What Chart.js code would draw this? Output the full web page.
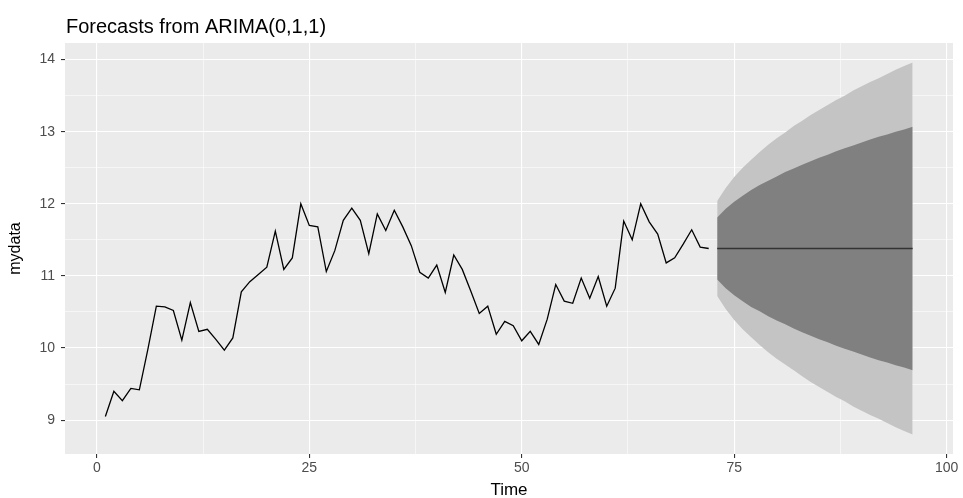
<!DOCTYPE html>
<html>
<head>
<meta charset="utf-8">
<title>Forecasts from ARIMA(0,1,1)</title>
<script src="https://cdn.jsdelivr.net/npm/chart.js@4.4.1/dist/chart.umd.min.js"></script>
<style>
  html, body { margin: 0; padding: 0; background: #ffffff; }
  canvas { display: block; }
</style>
</head>
<body>
<canvas id="fc" width="963" height="498"></canvas>
<script>
// Observed series (time 1..72)
const observed = [
  9.05, 9.40, 9.27, 9.44, 9.42, 9.98, 10.58, 10.57, 10.52, 10.11,
  10.63, 10.23, 10.26, 10.12, 9.97, 10.14, 10.78, 10.92, 11.02, 11.12,
  11.62, 11.09, 11.25, 12.00, 11.70, 11.68, 11.06, 11.35, 11.77, 11.94,
  11.77, 11.31, 11.86, 11.63, 11.91, 11.68, 11.42, 11.05, 10.97, 11.15,
  10.77, 11.29, 11.09, 10.79, 10.48, 10.58, 10.19, 10.37, 10.31, 10.10,
  10.23, 10.05, 10.40, 10.88, 10.65, 10.62, 10.97, 10.69, 10.99, 10.58,
  10.83, 11.76, 11.50, 12.00, 11.75, 11.58, 11.18, 11.25, 11.44, 11.64,
  11.40, 11.38
];
const firstTime = 1;

// Forecast horizon (time 73..96)
const forecastStart = 73;
const pointForecast = [
  11.38, 11.38, 11.38, 11.38, 11.38, 11.38, 11.38, 11.38, 11.38, 11.38, 11.38, 11.38,
  11.38, 11.38, 11.38, 11.38, 11.38, 11.38, 11.38, 11.38, 11.38, 11.38, 11.38, 11.38
];
const upper80 = [
  11.81, 11.93, 12.03, 12.11, 12.19, 12.26, 12.32, 12.38, 12.44, 12.49, 12.54, 12.59,
  12.64, 12.68, 12.73, 12.77, 12.81, 12.85, 12.89, 12.93, 12.96, 13.00, 13.03, 13.07
];
const lower80 = [
  10.95, 10.83, 10.73, 10.65, 10.57, 10.51, 10.44, 10.38, 10.33, 10.27, 10.22, 10.17,
  10.12, 10.08, 10.03, 9.99, 9.95, 9.91, 9.87, 9.83, 9.80, 9.76, 9.73, 9.69
];
const upper95 = [
  12.04, 12.22, 12.37, 12.50, 12.61, 12.72, 12.82, 12.91, 12.99, 13.08, 13.15, 13.23,
  13.30, 13.37, 13.44, 13.50, 13.57, 13.63, 13.69, 13.74, 13.80, 13.86, 13.91, 13.96
];
const lower95 = [
  10.72, 10.54, 10.39, 10.26, 10.15, 10.04, 9.94, 9.85, 9.77, 9.69, 9.61, 9.53,
  9.46, 9.39, 9.32, 9.26, 9.19, 9.13, 9.07, 9.02, 8.96, 8.90, 8.85, 8.80
];

// Axis breaks
const xMajorTicks = [0, 25, 50, 75, 100];
const xMinorTicks = [12.5, 37.5, 62.5, 87.5];
const yMajorTicks = [9, 10, 11, 12, 13, 14];
const yMinorTicks = [9.5, 10.5, 11.5, 12.5, 13.5];

const titleText = 'Forecasts from ARIMA(0,1,1)';
const xTitle = 'Time';
const yTitle = 'mydata';

const toPoints = (arr, start) => arr.map((v, i) => ({ x: start + i, y: v }));

const sansFamily = '"Liberation Sans", Arial, "DejaVu Sans", sans-serif';

function buildTicks(major, minor) {
  return major.concat(minor).sort((a, b) => a - b).map(v => ({ value: v }));
}
function isMajor(list, v) {
  return list.some(m => Math.abs(m - v) < 1e-9);
}

const panelPlugin = {
  id: 'panelBackground',
  beforeDraw(chart) {
    const { ctx, chartArea: a } = chart;
    ctx.save();
    ctx.fillStyle = '#ffffff';
    ctx.fillRect(0, 0, chart.width, chart.height);
    ctx.fillStyle = '#EBEBEB';
    ctx.fillRect(a.left, a.top, a.right - a.left, a.bottom - a.top);
    ctx.restore();
  }
};

const headingPlugin = {
  id: 'heading',
  afterDraw(chart) {
    const { ctx, chartArea: a } = chart;
    ctx.save();
    ctx.fillStyle = '#000000';
    ctx.font = '20px ' + sansFamily;
    ctx.textAlign = 'left';
    ctx.textBaseline = 'alphabetic';
    ctx.fillText(titleText, a.left + 1, 33);
    ctx.restore();
  }
};

const bandBase = {
  pointRadius: 0,
  borderWidth: 0,
  tension: 0
};

new Chart(document.getElementById('fc'), {
  type: 'line',
  data: {
    datasets: [
      Object.assign({}, bandBase, {
        label: '95% upper',
        data: toPoints(upper95, forecastStart),
        backgroundColor: '#C4C4C4',
        borderColor: 'rgba(0,0,0,0)',
        fill: '+1',
        order: 5
      }),
      Object.assign({}, bandBase, {
        label: '95% lower',
        data: toPoints(lower95, forecastStart),
        borderColor: 'rgba(0,0,0,0)',
        fill: false,
        order: 5
      }),
      Object.assign({}, bandBase, {
        label: '80% upper',
        data: toPoints(upper80, forecastStart),
        backgroundColor: '#808080',
        borderColor: 'rgba(0,0,0,0)',
        fill: '+1',
        order: 4
      }),
      Object.assign({}, bandBase, {
        label: '80% lower',
        data: toPoints(lower80, forecastStart),
        borderColor: 'rgba(0,0,0,0)',
        fill: false,
        order: 4
      }),
      {
        label: 'mydata',
        data: toPoints(observed, firstTime),
        borderColor: '#000000',
        borderWidth: 1.3,
        pointRadius: 0,
        tension: 0,
        fill: false,
        order: 2
      },
      {
        label: 'forecast',
        data: toPoints(pointForecast, forecastStart),
        borderColor: '#333333',
        borderWidth: 1.3,
        pointRadius: 0,
        tension: 0,
        fill: false,
        order: 1
      }
    ]
  },
  options: {
    responsive: false,
    devicePixelRatio: 1,
    animation: false,
    events: [],
    layout: { padding: { top: 43, right: 10, left: 0, bottom: 0 } },
    plugins: {
      legend: { display: false },
      tooltip: { enabled: false },
      title: { display: false }
    },
    scales: {
      x: {
        type: 'linear',
        min: -3.75,
        max: 100.75,
        afterBuildTicks: s => { s.ticks = buildTicks(xMajorTicks, xMinorTicks); },
        afterFit: s => { s.height = 44; },
        border: { display: false },
        grid: {
          color: '#FFFFFF',
          lineWidth: c => (isMajor(xMajorTicks, c.tick.value) ? 1.1 : 0.55),
          tickColor: c => (isMajor(xMajorTicks, c.tick.value) ? '#333333' : 'rgba(0,0,0,0)'),
          tickWidth: 1.1,
          tickLength: 4,
          drawTicks: true
        },
        ticks: {
          autoSkip: false,
          maxRotation: 0,
          padding: 2,
          color: '#4D4D4D',
          font: { family: sansFamily, size: 14 },
          callback: v => (isMajor(xMajorTicks, v) ? String(v) : '')
        },
        title: {
          display: true,
          text: xTitle,
          color: '#000000',
          font: { family: sansFamily, size: 17 },
          padding: { top: 0, bottom: -3 }
        }
      },
      y: {
        type: 'linear',
        min: 8.53,
        max: 14.23,
        afterBuildTicks: s => { s.ticks = buildTicks(yMajorTicks, yMinorTicks); },
        afterFit: s => { s.width = 65; },
        border: { display: false },
        grid: {
          color: '#FFFFFF',
          lineWidth: c => (isMajor(yMajorTicks, c.tick.value) ? 1.1 : 0.55),
          tickColor: c => (isMajor(yMajorTicks, c.tick.value) ? '#333333' : 'rgba(0,0,0,0)'),
          tickWidth: 1.1,
          tickLength: 4,
          drawTicks: true
        },
        ticks: {
          autoSkip: false,
          padding: 6,
          color: '#4D4D4D',
          font: { family: sansFamily, size: 14 },
          callback: v => (isMajor(yMajorTicks, v) ? String(v) : '')
        },
        title: {
          display: true,
          text: yTitle,
          color: '#000000',
          font: { family: sansFamily, size: 16 },
          padding: { top: 6, bottom: 0 }
        }
      }
    }
  },
  plugins: [panelPlugin, headingPlugin]
});
</script>
</body>
</html>
